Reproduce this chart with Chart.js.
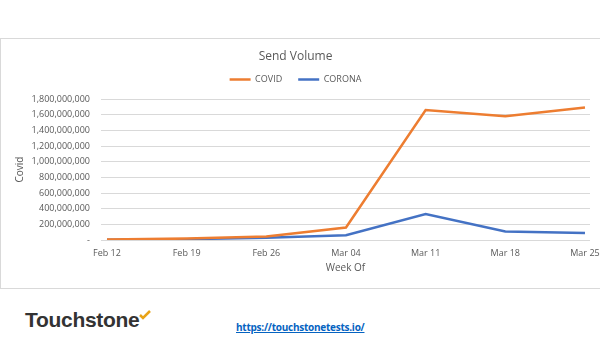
<!DOCTYPE html>
<html>
<head>
<meta charset="utf-8">
<script src="https://cdn.jsdelivr.net/npm/chart.js@4"></script>
<style>
  html, body { margin: 0; padding: 0; background: #fff; width: 600px; height: 338px; overflow: hidden; }
  #box {
    position: absolute; left: 0; top: 38px; width: 600px; height: 251px;
    box-sizing: border-box; border: 1px solid #d9d9d9; border-right: none;
  }
  #box canvas { display: block; }
  #logo {
    position: absolute; left: 25px; top: 308px;
    font: bold 21px "Liberation Sans", Arial, sans-serif; color: #333;
    letter-spacing: -0.3px;
  }
  #logo svg { position: absolute; left: 114px; top: 2px; }
  #link {
    position: absolute; left: 236px; top: 320px;
    font: bold 10px "Open Sans", sans-serif; color: #0563c1; text-decoration: underline;
    letter-spacing: -0.25px;
  }
</style>
</head>
<body>
<div id="box"><canvas id="chart" width="599" height="249"></canvas></div>
<div id="logo">Touchstone<svg width="12" height="10" viewBox="0 0 12 10"><path d="M1 5 L4 8 L11 1" stroke="#e8a317" stroke-width="2.5" fill="none"/></svg></div>
<div id="link">https://touchstonetests.io/</div>
<script>
// values
const weeks = ["Feb 12", "Feb 19", "Feb 26", "Mar 04", "Mar 11", "Mar 18", "Mar 25"];
const covid = [5e6, 18e6, 45e6, 160e6, 1660e6, 1580e6, 1690e6];
const corona = [4e6, 10e6, 30e6, 60e6, 330e6, 110e6, 90e6];
const yTicks = [0, 2e8, 4e8, 6e8, 8e8, 1e9, 1.2e9, 1.4e9, 1.6e9, 1.8e9];

const textColor = "#595959";
const gridColor = "#d9d9d9";
const font = "'Open Sans', sans-serif";

function points(values) {
  return values.map((v, i) => ({ x: i, y: v }));
}

function formatTick(v) {
  if (v === 0) return "-";
  return v.toLocaleString("en-US");
}

// a bit of extra room under the legend, like the Excel chart
const legendGap = {
  id: "legendGap",
  beforeInit(chart) {
    const fit = chart.legend.fit;
    chart.legend.fit = function () {
      fit.bind(chart.legend)();
      this.height += 5;
    };
  },
};

function createChart(ctx) {
  return new Chart(ctx, {
    type: "line",
    data: {
      datasets: [
        { label: "COVID", data: points(covid), borderColor: "#ed7d31", backgroundColor: "#ed7d31", borderWidth: 2.5 },
        { label: "CORONA", data: points(corona), borderColor: "#4472c4", backgroundColor: "#4472c4", borderWidth: 2.5 },
      ],
    },
    plugins: [legendGap],
    options: {
      responsive: false,
      animation: false,
      elements: { point: { radius: 0 }, line: { tension: 0 } },
      layout: { padding: { top: 0, right: 10, bottom: 0, left: 0 } },
      plugins: {
        tooltip: { enabled: false },
        title: {
          display: true,
          text: "Send Volume",
          color: textColor,
          font: { family: font, size: 12, weight: "normal", lineHeight: 1 },
          padding: { top: 12, bottom: -4 },
        },
        legend: {
          labels: {
            color: textColor,
            font: { family: font, size: 9 },
            usePointStyle: true,
            pointStyle: "line",
            pointStyleWidth: 21,
            padding: 16,
          },
        },
      },
      scales: {
        x: {
          type: "linear",
          min: -0.075,
          max: 6.063,
          afterFit(scale) {
            scale.height = 48;
            scale.paddingLeft = 0;
            scale.paddingRight = 0;
          },
          afterBuildTicks(scale) {
            scale.ticks = weeks.map((w, i) => ({ value: i }));
          },
          grid: { display: false, drawTicks: false },
          border: { display: false },
          ticks: {
            color: textColor,
            font: { family: font, size: 9 },
            padding: 8,
            maxRotation: 0,
            autoSkip: false,
            callback: (v) => weeks[v],
          },
          title: {
            display: true,
            text: "Week Of",
            color: textColor,
            font: { family: font, size: 10 },
            padding: { top: 0, bottom: 14 },
          },
        },
        y: {
          min: 0,
          max: 1.8e9,
          afterFit(scale) {
            scale.width = 100;
          },
          afterBuildTicks(scale) {
            scale.ticks = yTicks.map((v) => ({ value: v }));
          },
          grid: { color: gridColor, lineWidth: 1, drawTicks: false },
          border: { display: false },
          ticks: {
            color: textColor,
            font: { family: font, size: 9 },
            padding: 11,
            callback: formatTick,
          },
          title: {
            display: true,
            text: "Covid",
            color: textColor,
            font: { family: font, size: 10 },
            padding: { top: 13, bottom: 0 },
          },
        },
      },
    },
  });
}

createChart(document.getElementById("chart"));
</script>
</body>
</html>
